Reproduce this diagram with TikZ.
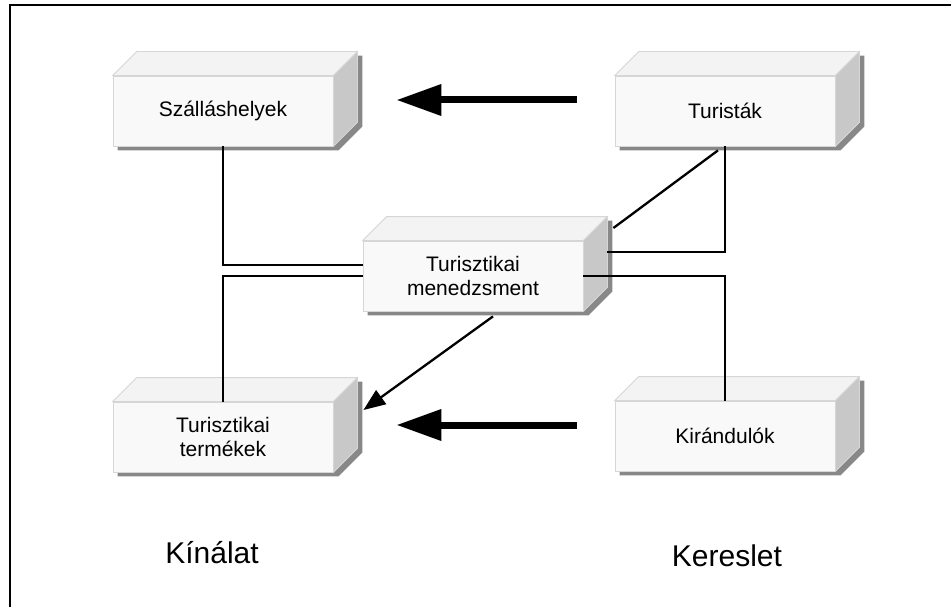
\documentclass[tikz,border=0pt]{standalone}
\usepackage{fontspec}
\setmainfont{Liberation Sans}
\usetikzlibrary{calc,arrows.meta}
\pgfdeclarelayer{bg}
\pgfsetlayers{bg,main}
\definecolor{frontc}{HTML}{F9F9F9}
\definecolor{topc}{HTML}{F3F3F3}
\definecolor{sidec}{HTML}{C8C8C8}
\definecolor{shadc}{HTML}{888888}
\definecolor{edgec}{HTML}{D6D6D6}
\tikzset{
  frontbox/.style={fill=frontc, draw=edgec, line width=0.8, minimum width=220, minimum height=70, inner sep=0, align=center, font=\fontsize{21}{24}\selectfont},
  conn/.style={line width=2.3, black},
  bigarrow/.style={line width=7, -{Triangle[length=45,width=30]}},
  thinarrow/.style={line width=2.3, -{Triangle[length=22,width=17]}},
  bottomlabel/.style={font=\fontsize{30}{34}\selectfont, anchor=base}
}
\newcommand{\cubefaces}[1]{%
  \begin{pgfonlayer}{bg}
    \fill[shadc] ($(#1.north west)+(5,4)$) -- ++(24,-24) -- ($(#1.north east)+(29,-20)$) -- ($(#1.south east)+(29,-20)$) -- ($(#1.south east)+(5,4)$) -- ($(#1.south west)+(5,4)$) -- cycle;
  \end{pgfonlayer}
  \filldraw[fill=topc, draw=edgec, line width=0.8] (#1.north west) -- ++(24,-24) -- ($(#1.north east)+(24,-24)$) -- (#1.north east) -- cycle;
  \filldraw[fill=sidec, draw=edgec, line width=0.8] (#1.north east) -- ++(24,-24) -- ($(#1.south east)+(24,-24)$) -- (#1.south east) -- cycle;
}
\begin{document}
\begin{tikzpicture}[x=1pt,y=-1pt]
\useasboundingbox (0,0) rectangle (951,607);
\begin{pgfonlayer}{bg}
\fill[white] (0,0) rectangle (951,607);
\end{pgfonlayer}
\draw[line width=2] (10,610) -- (10,5) -- (955,5);

\node[frontbox] (sz) at (223,111) {Szálláshelyek};
\cubefaces{sz}
\node[frontbox] (tu) at (725,111) {Turisták};
\cubefaces{tu}
\node[frontbox] (tm) at (473,276) {Turisztikai\\menedzsment};
\cubefaces{tm}
\node[frontbox] (te) at (223,437) {Turisztikai\\termékek};
\cubefaces{te}
\node[frontbox] (ki) at (725,436) {Kirándulók};
\cubefaces{ki}

\coordinate (tmup) at ($(tm.west)+(0,-11)$);
\coordinate (tmside) at ($(tm.east)+(24,-24)$);
\coordinate (d1) at ($(tu.south)+(-7,4)$);
\coordinate (d2) at ($(tm.east)+(30,-48)$);
\coordinate (a1) at ($(tm.south)+(20,5)$);
\coordinate (a2) at ($(te.east)+(30,-27)$);

\draw[conn] (sz.south) |- (tmup);
\draw[conn] (te.north) |- (tm.west);
\draw[conn] (tu.south) |- (tmside);
\draw[conn] (d1) -- (d2);
\draw[conn] (ki.north) |- (tm.east);
\draw[thinarrow] (a1) -- (a2);

\draw[bigarrow] ($(tu.west)+(-38,-11)$) -- ($(sz.east)+(63,-11)$);
\draw[bigarrow] ($(ki.west)+(-38,-11)$) -- ($(te.east)+(63,-12)$);

\node[bottomlabel] (kin) at (212,563) {Kínálat};
\node[bottomlabel] (ker) at (727,566) {Kereslet};
\end{tikzpicture}
\end{document}
